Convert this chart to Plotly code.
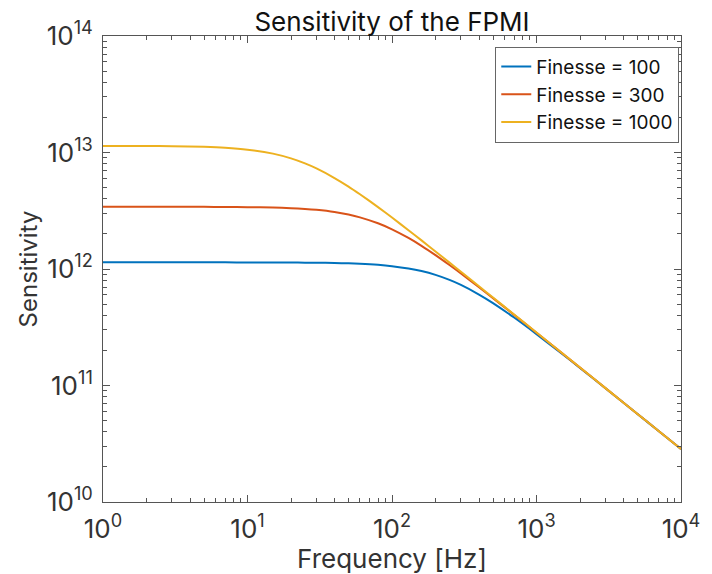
import plotly.graph_objects as go

freq = [1, 2, 3, 5, 7, 10, 15, 20, 25, 30, 40, 50, 60, 80, 100, 130, 160, 200,
        250, 300, 400, 500, 700, 1000, 1500, 2000, 3000, 5000, 7000, 10000]

sens_f100 = [1.14e12, 1.14e12, 1.14e12, 1.14e12, 1.14e12, 1.139e12, 1.138e12, 1.136e12,
             1.134e12, 1.132e12, 1.126e12, 1.118e12, 1.109e12, 1.086e12, 1.058e12, 1.011e12,
             9.60e11, 8.90e11, 8.06e11, 7.30e11, 6.04e11, 5.10e11, 3.83e11, 2.76e11,
             1.874e11, 1.414e11, 9.47e10, 5.69e10, 4.07e10, 2.85e10]

sens_f300 = [3.42e12, 3.42e12, 3.418e12, 3.414e12, 3.408e12, 3.396e12, 3.366e12, 3.326e12,
             3.276e12, 3.218e12, 3.083e12, 2.933e12, 2.775e12, 2.467e12, 2.190e12, 1.846e12,
             1.580e12, 1.315e12, 1.081e12, 9.15e11, 6.98e11, 5.62e11, 4.04e11, 2.84e11,
             1.897e11, 1.424e11, 9.50e10, 5.70e10, 4.07e10, 2.85e10]

sens_f1000 = [1.139e13, 1.136e13, 1.132e13, 1.118e13, 1.098e13, 1.058e13, 9.78e12, 8.90e12,
              8.06e12, 7.30e12, 6.04e12, 5.10e12, 4.38e12, 3.40e12, 2.765e12, 2.153e12,
              1.760e12, 1.414e12, 1.134e12, 9.47e11, 7.11e11, 5.69e11, 4.07e11, 2.85e11,
              1.900e11, 1.425e11, 9.50e10, 5.70e10, 4.07e10, 2.85e10]

series_names = ["Finesse = 100", "Finesse = 300", "Finesse = 1000"]
series_colors = ["#0072BD", "#D95319", "#EDB120"]

x_tickvals = [1, 10, 100, 1000, 10000]
x_ticktext = ["10<sup>0</sup>", "10<sup>1</sup>", "10<sup>2</sup>", "10<sup>3</sup>", "10<sup>4</sup>"]
y_tickvals = [1e10, 1e11, 1e12, 1e13, 1e14]
y_ticktext = ["10<sup>10</sup>", "10<sup>11</sup>", "10<sup>12</sup>", "10<sup>13</sup>", "10<sup>14</sup>"]

FONT = "Inter"
AX = "#555555"

fig = go.Figure()
for name, ys, col in zip(series_names, [sens_f100, sens_f300, sens_f1000], series_colors):
    fig.add_trace(go.Scatter(x=freq, y=ys, mode="lines", name=name,
                             line=dict(color=col, width=2, shape="spline", smoothing=0.6)))

axis_common = dict(
    type="log", showgrid=False, zeroline=False,
    showline=True, linecolor=AX, linewidth=1, mirror="allticks",
    ticks="inside", ticklen=7, tickcolor=AX, tickwidth=1,
    tickmode="array", ticklabelstandoff=4,
    tickfont=dict(family=FONT, size=26, color="#333333"),
    minor=dict(ticks="inside", ticklen=4, tickcolor=AX, dtick="D1", showgrid=False),
)

fig.update_xaxes(**axis_common, range=[0, 4], tickvals=x_tickvals, ticktext=x_ticktext,
                 title=dict(text="Frequency [Hz]", font=dict(family=FONT, size=26, color="#333333"), standoff=0))
fig.update_yaxes(**axis_common, range=[10, 14], tickvals=y_tickvals, ticktext=y_ticktext,
                 title=dict(text="Sensitivity", font=dict(family=FONT, size=24, color="#333333"), standoff=2))

fig.update_layout(
    width=712, height=574,
    margin=dict(l=103, r=22, t=36, b=69),
    paper_bgcolor="white", plot_bgcolor="white",
    title=dict(text="Sensitivity of the FPMI", x=0.5, xref="paper", xanchor="center",
               y=1, yref="paper", yanchor="bottom", pad=dict(b=5),
               font=dict(family=FONT, size=26, color="#111111")),
    legend=dict(x=0.997, y=0.977, xanchor="right", yanchor="top",
                bgcolor="white", bordercolor="#666666", borderwidth=1,
                font=dict(family=FONT, size=19, color="#111111"),
                tracegroupgap=0, itemwidth=30),
    showlegend=True,
)

fig.write_html("out.html")
